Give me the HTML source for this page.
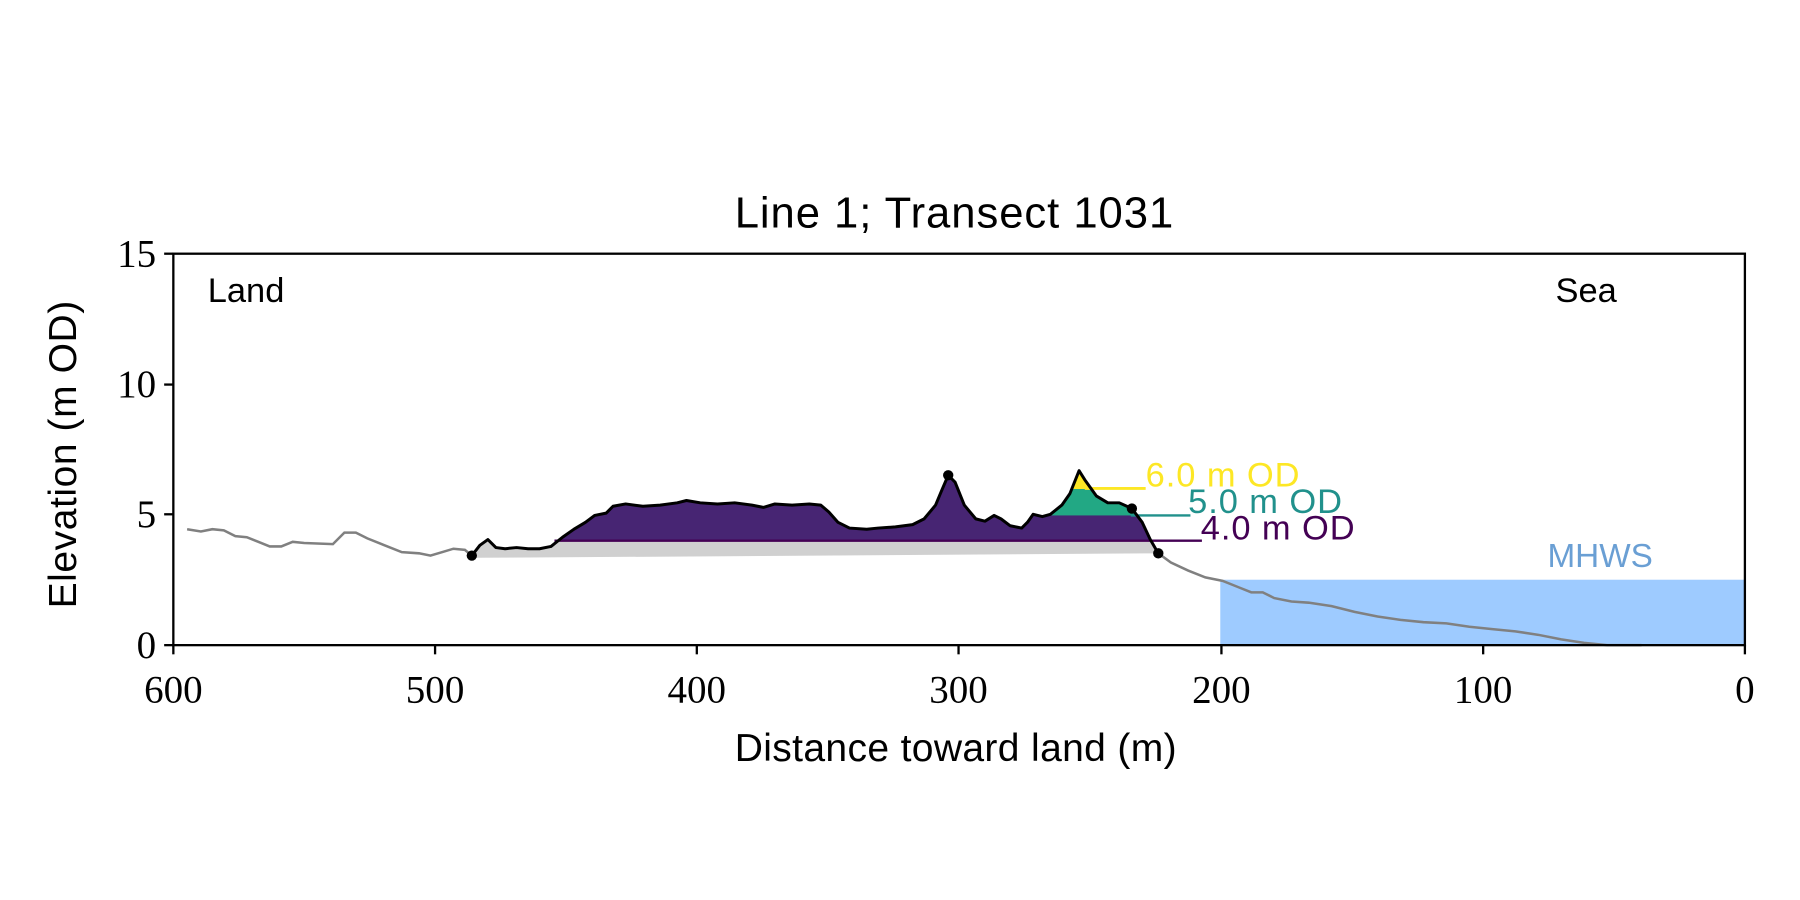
<!DOCTYPE html>
<html><head><meta charset="utf-8"><style>body{margin:0;background:#fff}svg{display:block}</style></head><body>
<svg width="1800" height="900" viewBox="0 0 1568 784" xmlns="http://www.w3.org/2000/svg">
<defs>
<clipPath id="prof"><polygon points="411,484 418,475 425,470 432,477 440,478 450,477 460,478 470,478 480,476 490,468 500,461 510,455 518,449 528,447 534,441 545,439 560,441 575,440 590,438 598,436 610,438 625,439 640,438 655,440 665,442 675,439 690,440 705,439 715,440 722,446 730,455 740,460 755,461 765,460 780,459 795,457 805,452 815,440 820,428 826,414 832,420 840,440 850,452 858,454 866,449 872,452 880,458 890,460 895,455 900,448 908,450 915,448 925,440 932,430 940,410 945,418 955,432 965,438 975,438 986,443 995,455 1002,470 1009,482 1009,482 411,486"/></clipPath>
</defs>
<rect x="1063" y="505" width="457" height="57" fill="#9ecbff"/>
<g clip-path="url(#prof)">
<rect x="400" y="400" width="620" height="100" fill="#d0d0d0"/>
<rect x="400" y="380" width="620" height="91" fill="#472573"/>
<rect x="900" y="380" width="120" height="69" fill="#22a884"/>
<rect x="900" y="380" width="120" height="46" fill="#fde725"/>
</g>
<line x1="483" y1="471" x2="1047" y2="471" stroke="#440154" stroke-width="2"/>
<line x1="985" y1="449" x2="1037" y2="449" stroke="#21918c" stroke-width="2"/>
<line x1="945" y1="425.5" x2="998" y2="425.5" stroke="#fde725" stroke-width="2.5"/>
<polyline fill="none" stroke="#808080" stroke-width="2.2" points="163,461 175,463 185,461 195,462 205,467 215,468 225,472 235,476 245,476 255,472 265,473 290,474 300,464 310,464 320,469 335,475 350,481 365,482 375,484 385,481 395,478 405,479 411,484"/>
<polyline fill="none" stroke="#808080" stroke-width="2.2" points="1009,482 1020,490 1035,497 1050,503 1065,506 1080,512 1090,516 1100,516 1110,521 1125,524 1140,525 1160,528 1180,533 1200,537 1220,540 1240,542 1260,543 1280,546 1300,548 1320,550 1340,553 1360,557 1380,560 1400,562 1430,562"/>
<polyline fill="none" stroke="#000" stroke-width="2.6" stroke-linejoin="round" points="411,484 418,475 425,470 432,477 440,478 450,477 460,478 470,478 480,476 490,468 500,461 510,455 518,449 528,447 534,441 545,439 560,441 575,440 590,438 598,436 610,438 625,439 640,438 655,440 665,442 675,439 690,440 705,439 715,440 722,446 730,455 740,460 755,461 765,460 780,459 795,457 805,452 815,440 820,428 826,414 832,420 840,440 850,452 858,454 866,449 872,452 880,458 890,460 895,455 900,448 908,450 915,448 925,440 932,430 940,410 945,418 955,432 965,438 975,438 986,443 995,455 1002,470 1009,482"/>
<g fill="#000"><circle cx="411" cy="484" r="4.5"/><circle cx="826" cy="414" r="4.5"/><circle cx="986" cy="443" r="4.5"/><circle cx="1009" cy="482" r="4.5"/></g>
<g font-family="Liberation Sans, sans-serif" font-size="30">
<text x="998" y="424" fill="#fde725" textLength="134">6.0 m OD</text>
<text x="1035" y="447" fill="#21918c" textLength="134">5.0 m OD</text>
<text x="1046" y="470" fill="#440154" textLength="134">4.0 m OD</text>
<text x="1348" y="494" fill="#6a9fd4" font-size="29">MHWS</text>
<text x="181" y="263" font-size="30">Land</text>
<text x="1355" y="263" font-size="30">Sea</text>
<text x="640" y="198" font-size="38" textLength="382">Line 1; Transect 1031</text>
<text x="640" y="663" font-size="34" textLength="385">Distance toward land (m)</text>
<text transform="translate(66,530) rotate(-90)" font-size="34" textLength="268">Elevation (m OD)</text>
</g>
<rect x="151" y="221" width="1369" height="341" fill="none" stroke="#000" stroke-width="2"/>
<g stroke="#000" stroke-width="2">
<line x1="151" y1="562" x2="151" y2="570"/><line x1="379" y1="562" x2="379" y2="570"/><line x1="607" y1="562" x2="607" y2="570"/><line x1="835" y1="562" x2="835" y2="570"/><line x1="1064" y1="562" x2="1064" y2="570"/><line x1="1292" y1="562" x2="1292" y2="570"/><line x1="1520" y1="562" x2="1520" y2="570"/>
<line x1="143" y1="562" x2="151" y2="562"/><line x1="143" y1="448" x2="151" y2="448"/><line x1="143" y1="335" x2="151" y2="335"/><line x1="143" y1="221" x2="151" y2="221"/>
</g>
<g font-family="Liberation Serif, serif" font-size="34" text-anchor="middle">
<text x="151" y="612">600</text><text x="379" y="612">500</text><text x="607" y="612">400</text><text x="835" y="612">300</text><text x="1064" y="612">200</text><text x="1292" y="612">100</text><text x="1520" y="612">0</text>
</g>
<g font-family="Liberation Serif, serif" font-size="34" text-anchor="end">
<text x="136" y="573">0</text><text x="136" y="459">5</text><text x="136" y="346">10</text><text x="136" y="232">15</text>
</g>
</svg>
</body></html>
